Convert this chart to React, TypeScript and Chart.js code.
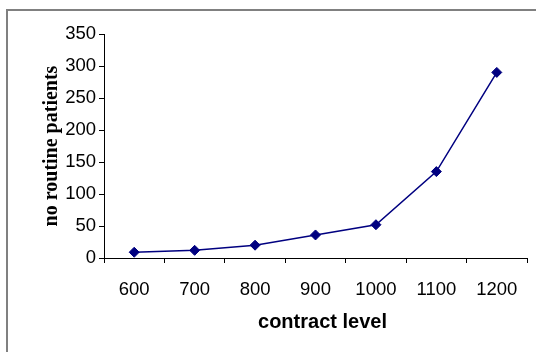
import React, { useEffect, useRef } from "react";
import { Chart, registerables } from "chart.js";

Chart.register(...registerables);

const categories = ["600", "700", "800", "900", "1000", "1100", "1200"];
const patients = [9, 12, 20, 36, 52, 135, 290];
const yTicks = [0, 50, 100, 150, 200, 250, 300, 350];
const xTitle = "contract level";
const yTitle = "no routine patients";

const SANS = "'Liberation Sans', Arial, sans-serif";
const SERIF = "'Liberation Serif', 'Times New Roman', serif";

const framePlugin = {
  id: "excelFrame",
  beforeDraw(chart: any) {
    const ctx = chart.ctx;
    ctx.save();
    ctx.fillStyle = "#ffffff";
    ctx.fillRect(0, 0, chart.width, chart.height);
    ctx.strokeStyle = "#808080";
    ctx.lineWidth = 2;
    ctx.beginPath();
    ctx.moveTo(6, 10);
    ctx.lineTo(chart.width, 10);
    ctx.moveTo(7, 9);
    ctx.lineTo(7, chart.height);
    ctx.stroke();
    ctx.restore();
  },
  afterDraw(chart: any) {
    const { ctx, chartArea } = chart;
    ctx.save();
    ctx.font = `bold 20px ${SANS}`;
    ctx.fillStyle = "#000";
    ctx.textAlign = "center";
    ctx.textBaseline = "alphabetic";
    ctx.fillText(xTitle, (chartArea.left + chartArea.right) / 2 + 7, chartArea.bottom + 70);
    ctx.restore();
  },
};

export default function App() {
  const ref = useRef<HTMLCanvasElement | null>(null);

  useEffect(() => {
    if (!ref.current) return;
    const chart = new Chart(ref.current, {
      type: "line",
      data: {
        labels: categories,
        datasets: [
          {
            data: patients,
            borderColor: "#000080",
            backgroundColor: "#000080",
            borderWidth: 1.5,
            pointStyle: "rectRot",
            pointRadius: 5,
            pointBorderWidth: 1,
            pointBackgroundColor: "#000080",
            pointBorderColor: "#000080",
            tension: 0,
            fill: false,
          },
        ],
      },
      options: {
        responsive: false,
        animation: false,
        devicePixelRatio: 1,
        layout: { padding: { top: 34, right: 9, bottom: 0, left: 0 } },
        plugins: {
          legend: { display: false },
          tooltip: { enabled: false },
          title: { display: false },
        },
        scales: {
          x: {
            type: "category",
            offset: true,
            afterFit: (s: any) => {
              s.height = 94;
            },
            grid: {
              offset: true,
              drawOnChartArea: false,
              drawTicks: true,
              tickLength: 5,
              color: "#000",
            },
            border: { display: true, color: "#000", width: 1 },
            ticks: {
              color: "#000",
              font: { family: SANS, size: 18.5 },
              padding: 16,
              maxRotation: 0,
              autoSkip: false,
            },
          },
          y: {
            min: yTicks[0],
            max: yTicks[yTicks.length - 1],
            afterFit: (s: any) => {
              s.width = 104;
            },
            grid: {
              drawOnChartArea: false,
              drawTicks: true,
              tickLength: 5,
              color: "#000",
            },
            border: { display: true, color: "#000", width: 1 },
            ticks: {
              stepSize: yTicks[1] - yTicks[0],
              color: "#000",
              font: { family: SANS, size: 18.5 },
              padding: 3,
            },
            title: {
              display: true,
              text: yTitle,
              color: "#000",
              font: { family: SERIF, size: 20, weight: "bold" },
              padding: { top: 40, bottom: 0 },
            },
          },
        },
      },
      plugins: [framePlugin],
    });
    return () => chart.destroy();
  }, []);

  return (
    <div style={{ position: "absolute", left: 0, top: 0, width: 536, height: 352, background: "#fff" }}>
      <canvas ref={ref} width={536} height={352} style={{ display: "block" }} />
    </div>
  );
}
